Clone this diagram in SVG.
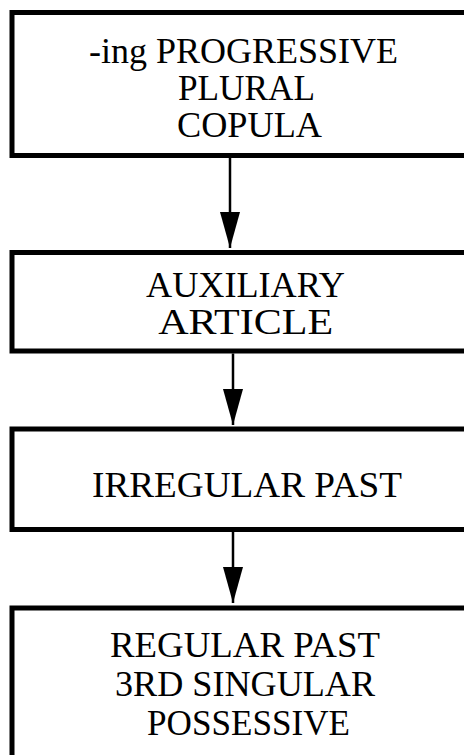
<svg xmlns="http://www.w3.org/2000/svg" width="464" height="755" viewBox="0 0 464 755">
  <style>
    .box { fill: #fff; stroke: #000; stroke-width: 5; }
    .lbl { font-family: "Liberation Serif", "Times New Roman", serif; font-size: 36px; fill: #000; text-anchor: middle; }
    .conn { stroke: #000; stroke-width: 2.5; fill: none; }
  </style>
  <defs>
    <marker id="ah" markerUnits="userSpaceOnUse" markerWidth="37" markerHeight="22" refX="36" refY="11" orient="auto">
      <path d="M0,1 L36,11 L0,21 Z" fill="#000"/>
    </marker>
  </defs>
  <rect width="464" height="755" fill="#fff"/>
  <g id="node1">
    <rect class="box" x="12" y="12.5" width="470" height="143"/>
    <text class="lbl" x="243.5" y="63" textLength="309" lengthAdjust="spacingAndGlyphs">-ing PROGRESSIVE</text>
    <text class="lbl" x="246.5" y="100" textLength="137" lengthAdjust="spacingAndGlyphs">PLURAL</text>
    <text class="lbl" x="249.5" y="137" textLength="145" lengthAdjust="spacingAndGlyphs">COPULA</text>
  </g>
  <g id="node2">
    <rect class="box" x="12" y="252.5" width="470" height="98.5"/>
    <text class="lbl" x="245.5" y="296.5" textLength="199" lengthAdjust="spacingAndGlyphs">AUXILIARY</text>
    <text class="lbl" x="245.7" y="334" textLength="175" lengthAdjust="spacingAndGlyphs">ARTICLE</text>
  </g>
  <g id="node3">
    <rect class="box" x="12" y="429" width="470" height="100.5"/>
    <text class="lbl" x="247" y="496.5" textLength="310" lengthAdjust="spacingAndGlyphs">IRREGULAR PAST</text>
  </g>
  <g id="node4">
    <rect class="box" x="12" y="608" width="470" height="150"/>
    <text class="lbl" x="245" y="657" textLength="270" lengthAdjust="spacingAndGlyphs">REGULAR PAST</text>
    <text class="lbl" x="245" y="696" textLength="260" lengthAdjust="spacingAndGlyphs">3RD SINGULAR</text>
    <text class="lbl" x="248.5" y="735" textLength="203" lengthAdjust="spacingAndGlyphs">POSSESSIVE</text>
  </g>
  <g id="connectors">
    <line class="conn" x1="230" y1="158" x2="230" y2="248" marker-end="url(#ah)"/>
    <line class="conn" x1="233" y1="353.5" x2="233" y2="425" marker-end="url(#ah)"/>
    <line class="conn" x1="233" y1="532" x2="233" y2="603" marker-end="url(#ah)"/>
  </g>
</svg>
